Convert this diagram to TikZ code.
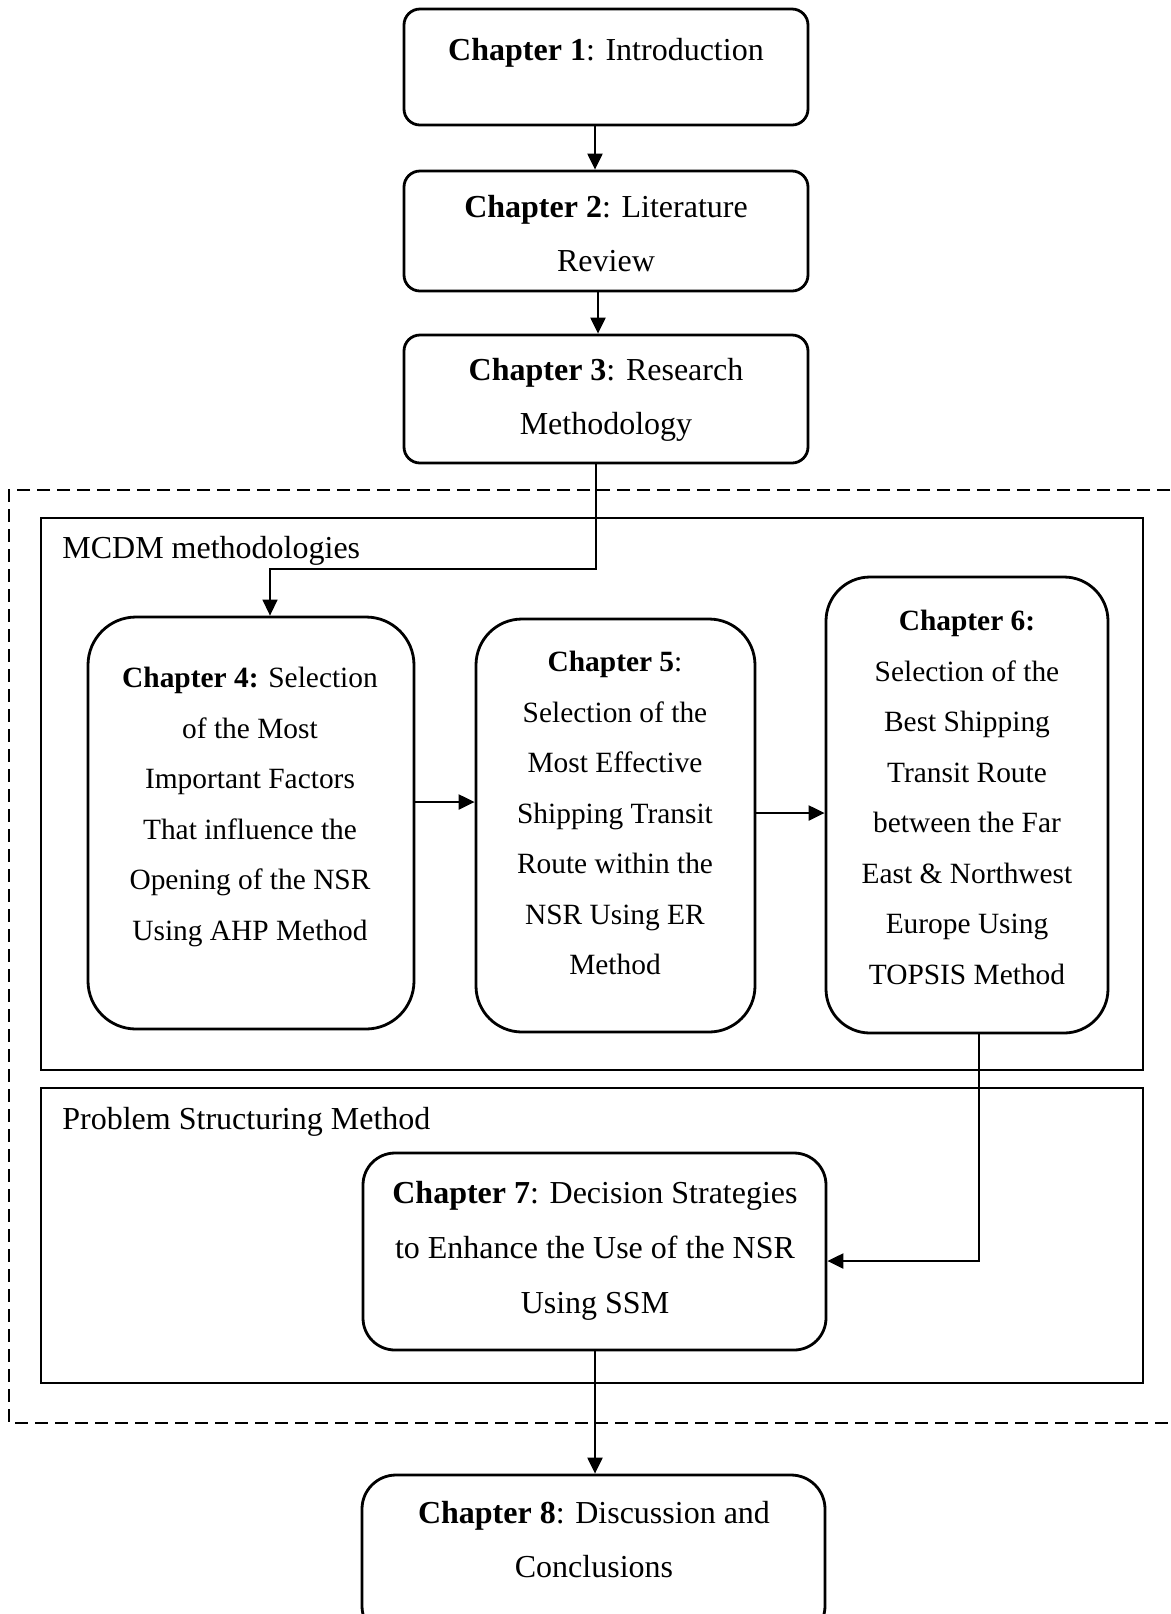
\documentclass[tikz,border=0pt]{standalone}
\usepackage{fontspec}
\setmainfont{Liberation Serif}
\usetikzlibrary{arrows.meta,fit}
\begin{document}
\begin{tikzpicture}[x=0.5pt,y=-0.5pt,
  chbox/.style={draw, line width=1.4pt, inner sep=0pt},
  frame/.style={draw, line width=1.1pt, inner sep=0pt},
  chtext/.style={anchor=north, inner sep=0pt, align=center},
  widelines/.style={font=\fontsize{16}{27}\selectfont},
  tightlines/.style={font=\fontsize{14.7}{25.25}\selectfont},
  grouplabel/.style={anchor=base west, inner sep=0pt, font=\fontsize{16}{19}\selectfont},
  link/.style={line width=1.1pt, -{Triangle[length=8pt,width=7.5pt]}},
  thinlink/.style={line width=0.7pt, -{Triangle[length=8pt,width=7.5pt]}},
]
\clip (0,0) rectangle (1171,1614);
\useasboundingbox (0,0) rectangle (1171,1614);

% outer dashed enclosure (open on the right)
\draw[line width=1.2pt, dash pattern=on 6.5pt off 3.5pt]
  (1190,490) -- (9,490) -- (9,1423) -- (1190,1423);

% method groups
\node[frame, fit={(41,518) (1143,1070)}] (mcdm) {};
\node[frame, fit={(41,1088) (1143,1383)}] (psm) {};
\node[grouplabel] (mcdmlbl) at (62,558) {MCDM methodologies};
\node[grouplabel] (psmlbl) at (62,1129) {Problem Structuring Method};

% chapter boxes
\node[chbox, rounded corners=8pt, fit={(404,9) (808,125)}] (c1) {};
\node[chbox, rounded corners=8pt, fit={(404,171) (808,291)}] (c2) {};
\node[chbox, rounded corners=8pt, fit={(404,335) (808,463)}] (c3) {};
\node[chbox, rounded corners=24pt, fit={(88,617) (414,1029)}] (c4) {};
\node[chbox, rounded corners=23pt, fit={(476,619) (755,1032)}] (c5) {};
\node[chbox, rounded corners=22pt, fit={(826,577) (1108,1033)}] (c6) {};
\node[chbox, rounded corners=16pt, fit={(363,1153) (826,1350)}] (c7) {};
\node[chbox, rounded corners=17pt, fit={(362,1475) (825,1640)}] (c8) {};

% chapter texts
\node[chtext, widelines] (t1) at (606,38) {\textbf{Chapter 1}: Introduction};
\node[chtext, widelines] (t2) at (606,195) {\textbf{Chapter 2}: Literature\\Review};
\node[chtext, widelines] (t3) at (606,358) {\textbf{Chapter 3}: Research\\Methodology};
\node[chtext, tightlines] (t4) at (250,667) {\textbf{Chapter 4:} Selection\\of the Most\\Important Factors\\That influence the\\Opening of the NSR\\Using AHP Method};
\node[chtext, tightlines] (t5) at (615,651) {\textbf{Chapter 5}:\\Selection of the\\Most Effective\\Shipping Transit\\Route within the\\NSR Using ER\\Method};
\node[chtext, tightlines] (t6) at (967,610) {\textbf{Chapter 6:}\\Selection of the\\Best Shipping\\Transit Route\\between the Far\\East \& Northwest\\Europe Using\\TOPSIS Method};
\node[chtext, font=\fontsize{16}{27.5}\selectfont] (t7) at (595,1181) {\textbf{Chapter 7}: Decision Strategies\\to Enhance the Use of the NSR\\Using SSM};
\node[chtext, widelines] (t8) at (594,1501) {\textbf{Chapter 8}: Discussion and\\Conclusions};

% connector guide points
\coordinate (sp1) at (595,0);
\coordinate (sp2) at (598,0);
\coordinate (sp3) at (596,0);
\coordinate (bend) at (270,569);
\coordinate (r45) at (0,802);
\coordinate (r56) at (0,813);
\coordinate (drop) at (979,1261);
\coordinate (sp7) at (595,0);

% connectors
\draw[link] (sp1 |- c1.south) -- (sp1 |- c2.north);
\draw[link] (sp2 |- c2.south) -- (sp2 |- c3.north);
\draw[thinlink] (sp3 |- c3.south) -- (sp3 |- bend) -- (bend) -- (bend |- c4.north);
\draw[link] (c4.east |- r45) -- (c5.west |- r45);
\draw[link] (c5.east |- r56) -- (c6.west |- r56);
\draw[link] (drop |- c6.south) -- (drop) -- (c7.east |- drop);
\draw[link] (sp7 |- c7.south) -- (sp7 |- c8.north);
\end{tikzpicture}
\end{document}
